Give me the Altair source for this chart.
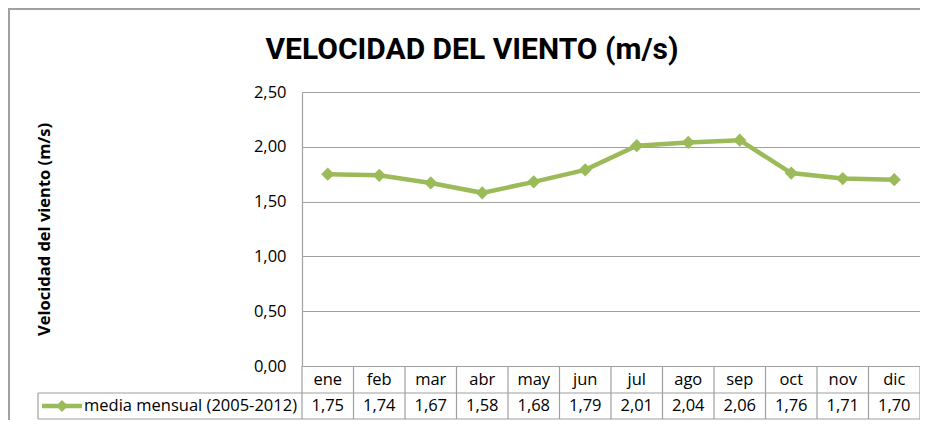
import altair as alt
import pandas as pd

months = ["ene", "feb", "mar", "abr", "may", "jun", "jul", "ago", "sep", "oct", "nov", "dic"]
values = [1.75, 1.74, 1.67, 1.58, 1.68, 1.79, 2.01, 2.04, 2.06, 1.76, 1.71, 1.70]
series_name = "media mensual (2005-2012)"
title_text = "VELOCIDAD DEL VIENTO (m/s)"
y_title = "Velocidad del viento (m/s)"
y_ticks = [0, 0.5, 1.0, 1.5, 2.0, 2.5]

df = pd.DataFrame({"mes": months, "valor": values})
last = pd.DataFrame({"mes": [months[-1]]})
one = pd.DataFrame({"k": [0]})

W, H = 618, 274
GREEN = "#9BBB59"
GRID = "#A0A0A0"
FONT = "Open Sans"
TFONT = "Roboto"
FS = 16.5
ROW1, ROW2, RMID, TBOT = H + 13.5, H + 40, H + 27, H + 53
LEFT_CELL = -264

xscale = alt.Scale(type="band", domain=months, paddingInner=0, paddingOuter=0)
fmt = "replace(format(datum.valor, '.2f'), '.', ',')"

yenc = alt.Y(
    "valor:Q",
    scale=alt.Scale(domain=[0, 2.5], nice=False, zero=True),
    axis=alt.Axis(
        values=y_ticks,
        labelExpr="replace(format(datum.value, '.2f'), '.', ',')",
        grid=True, gridColor=GRID, gridWidth=1.2,
        ticks=False, domain=True, domainColor=GRID, domainWidth=1.2,
        labelPadding=16, labelFont=FONT, labelFontSize=FS, labelColor="black",
        title=y_title, titleFont=FONT, titleFontSize=16.5, titleFontWeight="bold",
        titleColor="black", titleX=-258, titleY=H / 2, titleAngle=270,
        titleBaseline="middle", titleAlign="center",
    ),
)

line = alt.Chart(df).mark_line(color=GREEN, strokeWidth=4.5).encode(
    x=alt.X("mes:N", sort=months, scale=xscale, axis=None), y=yenc
)
pts = alt.Chart(df).mark_point(shape="diamond", filled=True, size=175, color=GREEN, opacity=1).encode(
    x=alt.X("mes:N", sort=months, scale=xscale, axis=None), y="valor:Q"
)

# table grid
vlines = alt.Chart(df).mark_rule(color=GRID, strokeWidth=1.2).encode(
    x=alt.X("mes:N", sort=months, scale=xscale, axis=None, bandPosition=0),
    y=alt.value(H), y2=alt.value(TBOT),
)
vlast = alt.Chart(last).mark_rule(color=GRID, strokeWidth=1.2).encode(
    x=alt.X("mes:N", sort=months, scale=xscale, axis=None, bandPosition=1),
    y=alt.value(H), y2=alt.value(TBOT),
)
h1 = alt.Chart(one).mark_rule(color=GRID, strokeWidth=1.2).encode(
    x=alt.value(LEFT_CELL), x2=alt.value(W), y=alt.value(RMID)
)
h2 = alt.Chart(one).mark_rule(color=GRID, strokeWidth=1.2).encode(
    x=alt.value(LEFT_CELL), x2=alt.value(W), y=alt.value(TBOT)
)
vleft = alt.Chart(one).mark_rule(color=GRID, strokeWidth=1.2).encode(
    x=alt.value(LEFT_CELL), y=alt.value(RMID), y2=alt.value(TBOT)
)

mlabels = alt.Chart(df).mark_text(font=FONT, fontSize=FS, color="black", baseline="middle").encode(
    x=alt.X("mes:N", sort=months, scale=xscale, axis=None), y=alt.value(ROW1), text="mes:N"
)
vlabels = alt.Chart(df).transform_calculate(lab=fmt).mark_text(
    font=FONT, fontSize=FS, color="black", baseline="middle"
).encode(
    x=alt.X("mes:N", sort=months, scale=xscale, axis=None), y=alt.value(ROW2), text="lab:N"
)

# legend cell
leg_line = alt.Chart(one).mark_rule(color=GREEN, strokeWidth=4.5).encode(
    x=alt.value(-260), x2=alt.value(-220), y=alt.value(ROW2)
)
leg_pt = alt.Chart(one).mark_point(shape="diamond", filled=True, size=140, color=GREEN, opacity=1).encode(
    x=alt.value(-240), y=alt.value(ROW2)
)
leg_txt = alt.Chart(one).mark_text(font=FONT, fontSize=FS, color="black", align="left", baseline="middle").encode(
    x=alt.value(-218), y=alt.value(ROW2), text=alt.value(series_name)
)

# title
ttl = alt.Chart(one).mark_text(
    font=TFONT, fontSize=30, fontWeight="bold", color="black", align="center", baseline="alphabetic"
).encode(x=alt.value(170), y=alt.value(-33), text=alt.value(title_text))

# outer chart frame
ftop = alt.Chart(one).mark_rule(color=GRID, strokeWidth=2).encode(
    x=alt.value(-294), x2=alt.value(W + 10), y=alt.value(-83)
)
fleft = alt.Chart(one).mark_rule(color=GRID, strokeWidth=2).encode(
    x=alt.value(-293), y=alt.value(-84), y2=alt.value(H + 60)
)

chart = alt.layer(
    vlines, vlast, h1, h2, vleft, line, pts, mlabels, vlabels, leg_line, leg_pt, leg_txt, ttl, ftop, fleft
).properties(
    width=W, height=H,
    autosize=alt.AutoSizeParams(type="none"),
    padding={"left": 294, "top": 84, "right": 0, "bottom": 54},
).configure_view(stroke=None)

chart.save("out.html", embed_options={"renderer": "svg", "actions": False})
